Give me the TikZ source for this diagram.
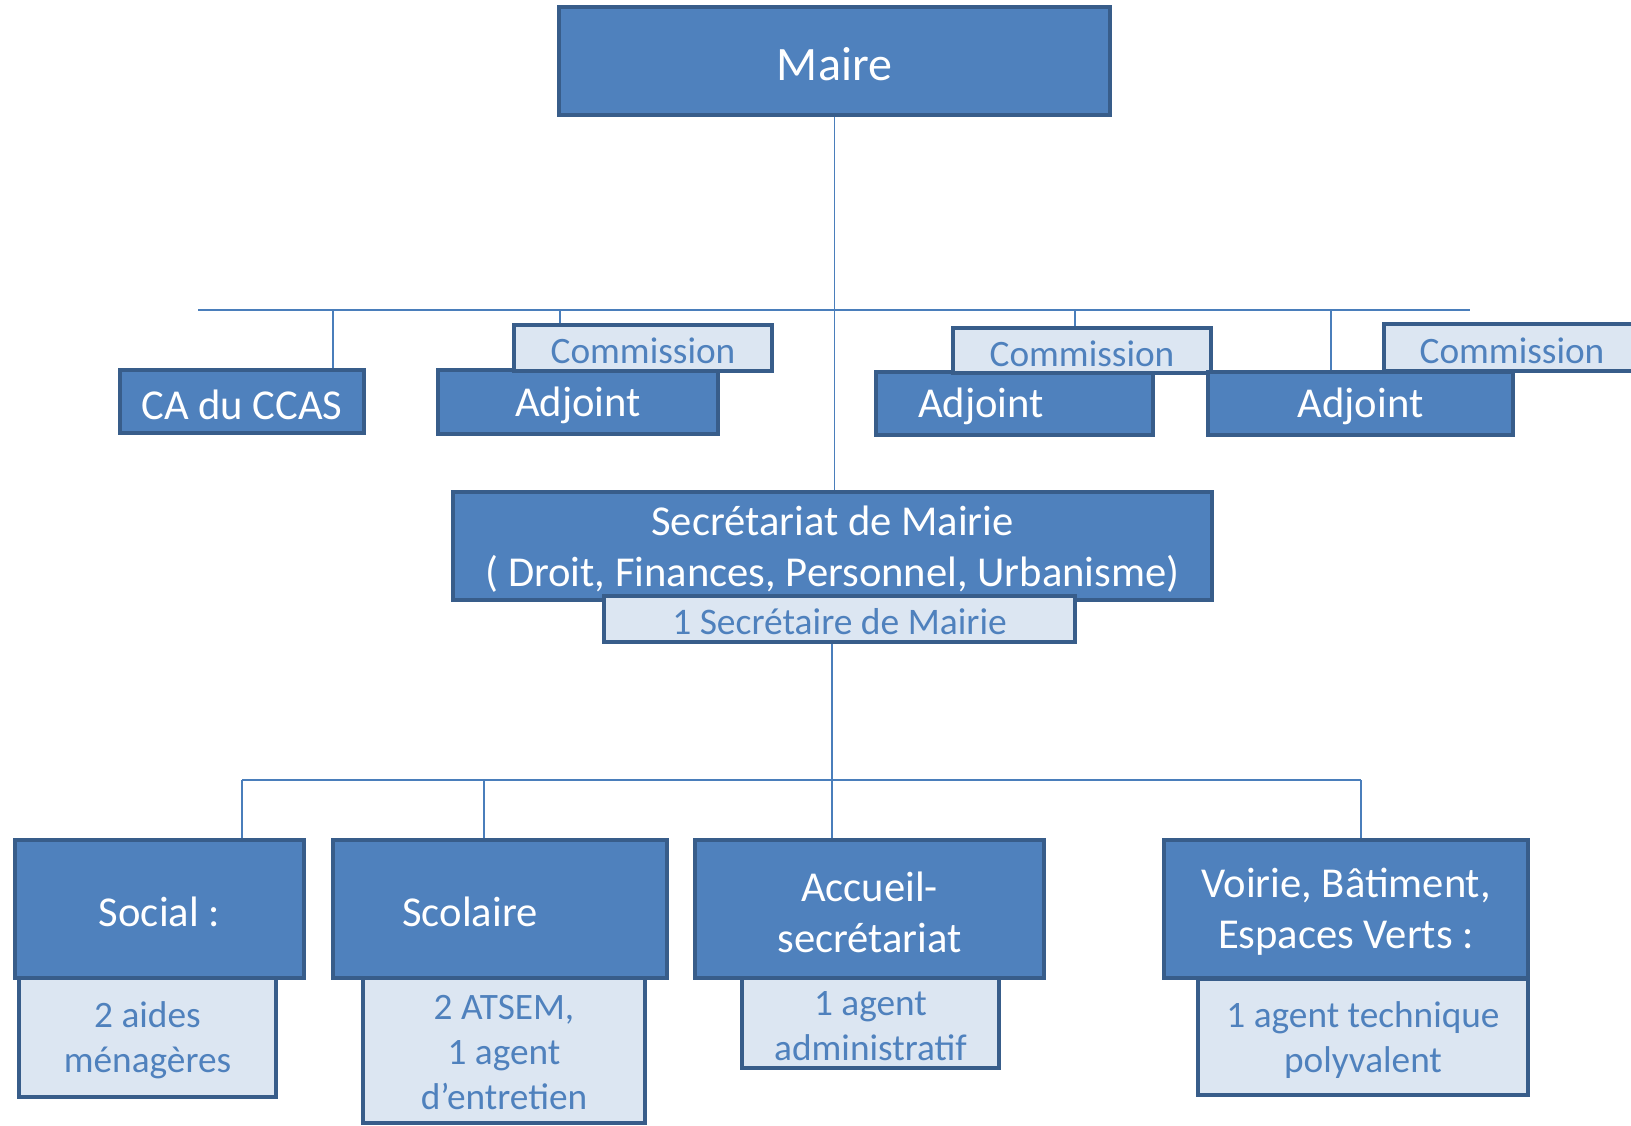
\documentclass[tikz,border=0pt]{standalone}
\usepackage{fontspec}
\setmainfont{Carlito}
\definecolor{mblue}{HTML}{4F81BD}
\definecolor{bdr}{HTML}{385D8A}
\definecolor{lblue}{HTML}{DCE6F2}
\definecolor{cblue}{HTML}{4A7EBB}
\newcommand{\fsA}{\fontsize{48}{58}\selectfont}
\newcommand{\fsB}{\fontsize{42.6}{51}\selectfont}
\newcommand{\fsC}{\fontsize{37.3}{45}\selectfont}
\tikzset{
  dbox/.style={draw=bdr, line width=3.5pt, fill=mblue, inner sep=0pt},
  lbox/.style={draw=bdr, line width=3.5pt, fill=lblue, inner sep=0pt},
  conn/.style={draw=cblue, line width=1.8pt},
  wtext/.style={text=white, inner sep=0pt, align=center, font=\fsB, yshift=-3pt},
  btext/.style={text=mblue, inner sep=0pt, align=center, font=\fsC, yshift=-3pt},
}
\begin{document}
\begin{tikzpicture}[x=1pt,y=-1pt]
\clip (0,0) rectangle (1631,1126);
\fill[white] (0,0) rectangle (1631,1126);
% coordinates for bars
\coordinate (barL) at (198,310);
\coordinate (barR) at (1470,310);
\coordinate (dCA) at (333,310);
\coordinate (dC1) at (560,310);
\coordinate (dC2) at (1075,310);
\coordinate (dA3) at (1331,310);
\coordinate (lbarL) at (242,780);
\coordinate (lbarR) at (1361,780);
\coordinate (dScol) at (484,780);
\coordinate (dAcc) at (832,780);

% boxes (top)
\node[dbox, minimum width=551, minimum height=108] (maire) at (834.5,61) {};
\node[wtext, font=\fsA] (mairet) at (maire) {Maire};
\node[dbox, minimum width=759, minimum height=108] (sec) at (832.5,546) {};
\node[wtext] (sect) at (sec) {Secrétariat de Mairie\\( Droit, Finances, Personnel, Urbanisme)};

% connectors
\draw[conn] (maire.south) -- (maire.south |- sec.north);
\draw[conn] (barL) -- (barR);
\draw[conn] (dCA) -- (dCA |- 0,370);
\draw[conn] (dC1) -- (dC1 |- 0,325);
\draw[conn] (dC2) -- (dC2 |- 0,328);
\draw[conn] (dA3) -- (dA3 |- 0,372);
\draw[conn] (lbarL) -- (lbarR);
\draw[conn] (lbarL) -- (lbarL |- 0,840);
\draw[conn] (dScol) -- (dScol |- 0,840);
\draw[conn] (dAcc |- 0,642) -- (dAcc |- 0,840);
\draw[conn] (lbarR) -- (lbarR |- 0,840);

% second row
\node[dbox, minimum width=244, minimum height=63] (ca) at (242,401.5) {};
\node[wtext] (cat) at (ca) {CA du CCAS};
\node[dbox, minimum width=280, minimum height=64] (adj1) at (578,402) {};
\node[wtext] (adj1t) at (adj1) {Adjoint};
\node[lbox, minimum width=258, minimum height=46] (com1) at (643,348) {};
\node[btext] (com1t) at (com1) {Commission};
\node[dbox, minimum width=277, minimum height=63] (adj2) at (1014.5,403.5) {};
\node[wtext] (adj2t) at (981,403.5) {Adjoint};
\node[lbox, minimum width=258, minimum height=45] (com2) at (1082,350.5) {};
\node[btext] (com2t) at (com2) {Commission};
\node[dbox, minimum width=305, minimum height=63] (adj3) at (1360.5,403.5) {};
\node[wtext] (adj3t) at (adj3) {Adjoint};
\node[lbox, minimum width=256, minimum height=47] (com3) at (1512,347.5) {};
\node[btext] (com3t) at (com3) {Commission};

% secretary sub
\node[lbox, minimum width=471, minimum height=46] (secsub) at (839.5,619) {};
\node[btext, font=\fontsize{37.5}{45}\selectfont] (secsubt) at (secsub) {1 Secrétaire de Mairie};

% bottom row
\node[lbox, minimum width=257, minimum height=119] (socsub) at (147.5,1037.5) {};
\node[btext] (socsubt) at (socsub) {2 aides\\ménagères};
\node[dbox, minimum width=289, minimum height=138] (soc) at (159.5,909) {};
\node[wtext] (soct) at (soc) {Social :};
\node[lbox, minimum width=282, minimum height=146] (scolsub) at (504,1050) {};
\node[btext] (scolsubt) at (scolsub) {2 ATSEM,\\1 agent\\d’entretien};
\node[dbox, minimum width=334, minimum height=138] (scol) at (500,909) {};
\node[wtext] (scolt) at (470,909) {Scolaire};
\node[lbox, minimum width=257, minimum height=90] (accsub) at (870.5,1023) {};
\node[btext] (accsubt) at (accsub) {1 agent\\administratif};
\node[dbox, minimum width=349, minimum height=138] (acc) at (869.5,909) {};
\node[wtext] (acct) at (acc) {Accueil-\\secrétariat};
\node[lbox, minimum width=330, minimum height=116] (voisub) at (1363,1037) {};
\node[btext] (voisubt) at (voisub) {1 agent technique\\polyvalent};
\node[dbox, minimum width=364, minimum height=138] (voi) at (1346,909) {};
\node[wtext] (voit) at (voi) {Voirie, Bâtiment,\\Espaces Verts :};
\end{tikzpicture}
\end{document}
